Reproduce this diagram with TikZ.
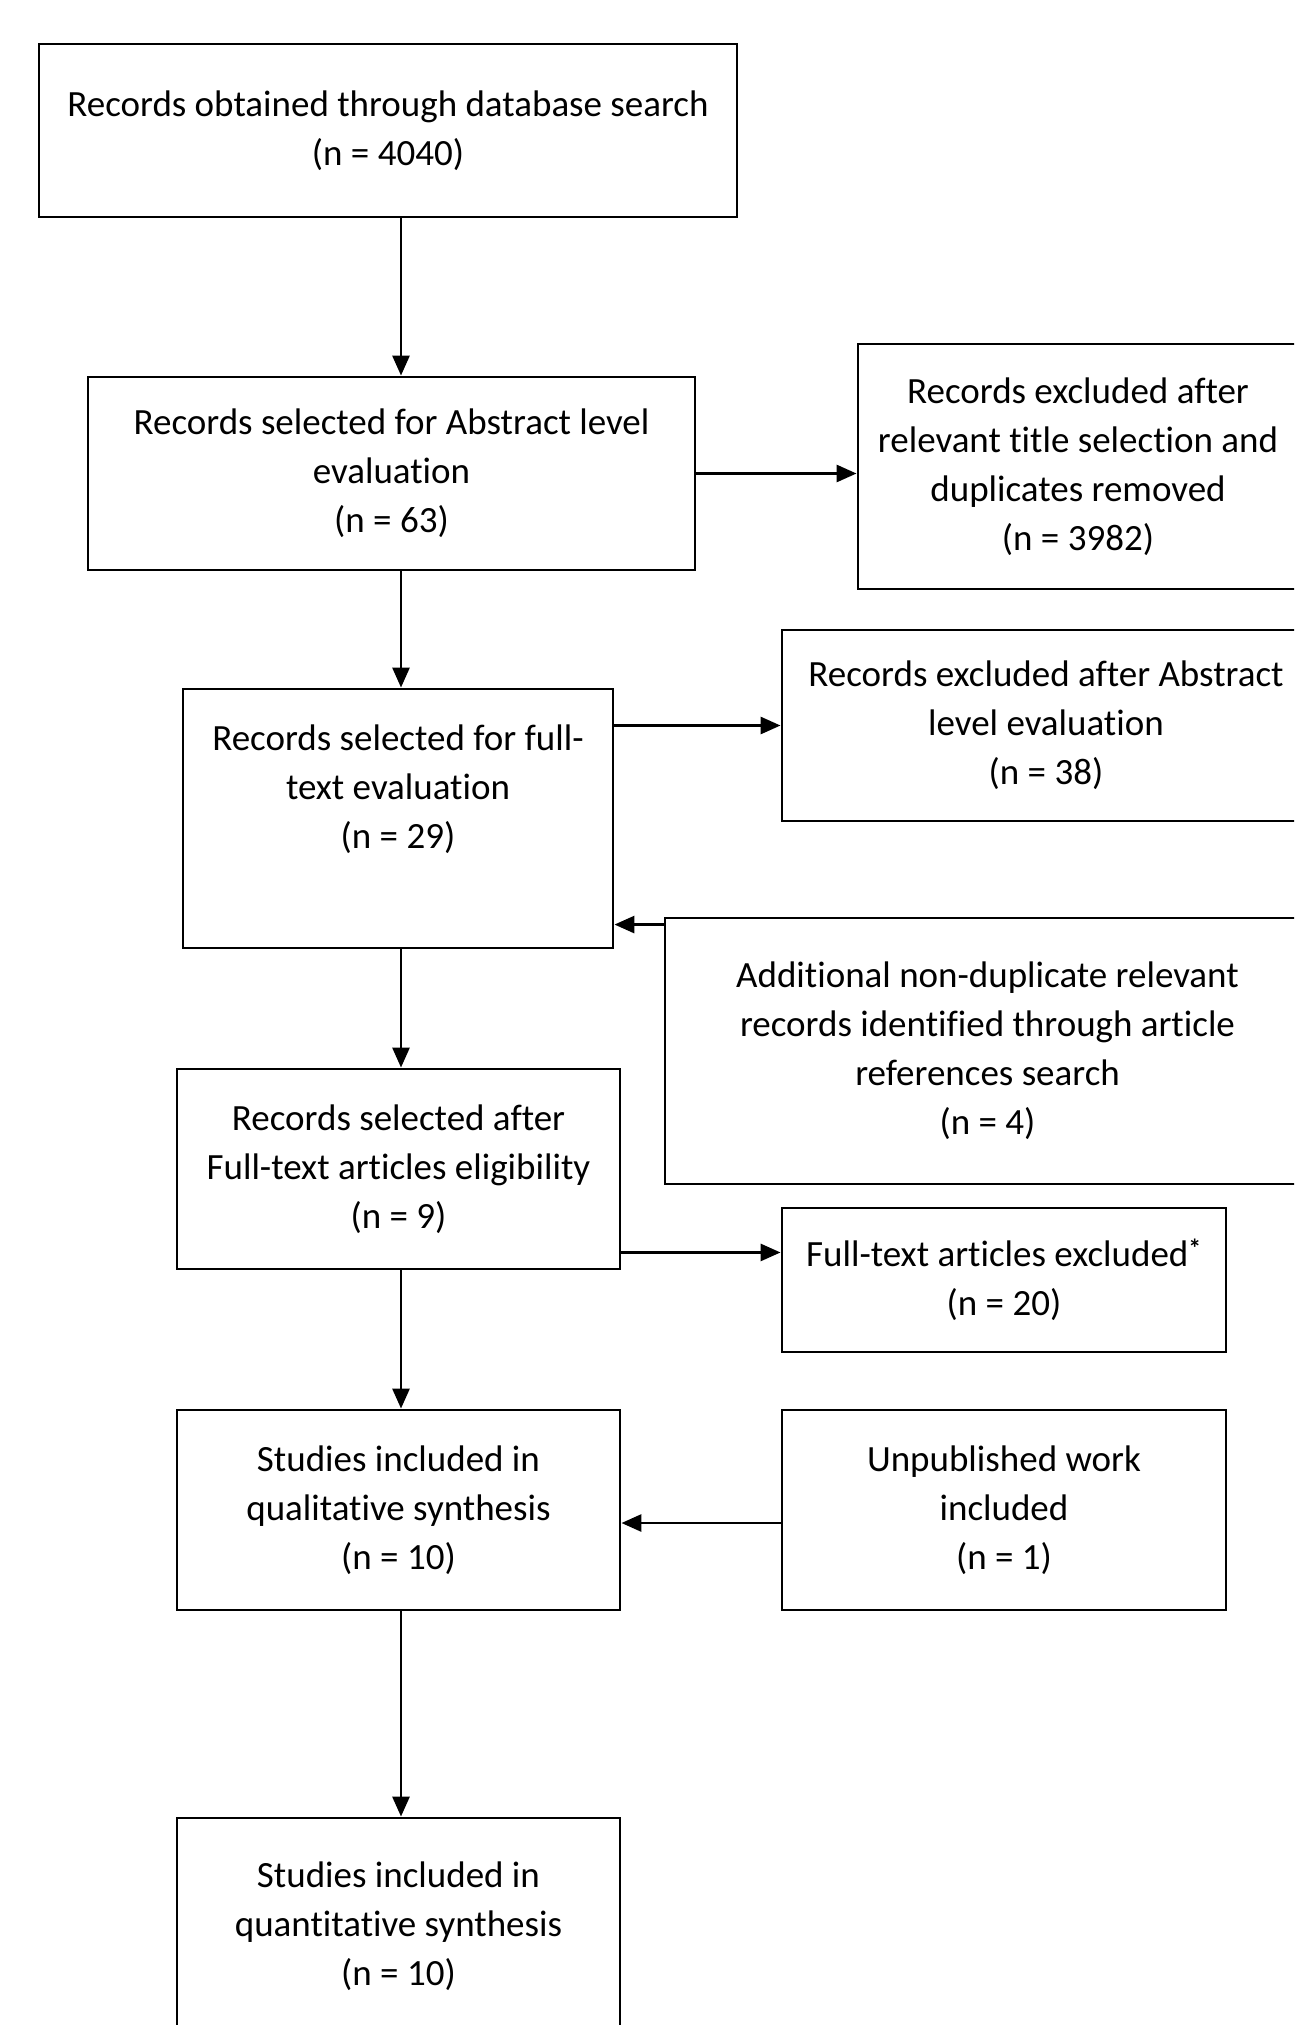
\documentclass[tikz,border=0pt]{standalone}
\usepackage{fontspec}
\setmainfont{Carlito}[Ligatures=NoCommon]
\usetikzlibrary{arrows.meta}

\begin{document}
\begin{tikzpicture}[x=1pt,y=-1pt,
        box/.style={draw,line width=2.9pt,inner sep=0pt,align=center,font=\fontsize{37}{49}\selectfont},
        arr/.style={line width=2.9pt,-{Triangle[length=20pt,width=17pt]}}]
    \clip (0,0) rectangle (1294,2025);
    \fill[white] (0,0) rectangle (1294,2025);
    \coordinate (trunk) at (401,0);
    \node[box,minimum width=698pt,minimum height=173pt] (recs) at (388,130.5) {Records obtained through database search\\(n = 4040)};
    \node[box,minimum width=607pt,minimum height=193pt] (abs) at (391.5,473.5) {Records selected for Abstract level\\evaluation\\(n = 63)};
    \node[box,minimum width=440pt,minimum height=245pt] (excla) at (1078,466.5) {Records excluded after\\relevant title selection and\\duplicates removed\\(n = 3982)};
    \node[box,minimum width=430pt,minimum height=259pt] (full) at (398,818.5) {Records selected for full-\\text evaluation\\(n = 29)\\ \strut};
    \node[box,minimum width=528pt,minimum height=191pt] (exclb) at (1046,725.5) {Records excluded after Abstract\\level evaluation\\(n = 38)};
    \node[box,minimum width=645pt,minimum height=266pt] (addl) at (987.5,1051) {Additional non-duplicate relevant\\records identified through article\\references search\\(n = 4)};
    \node[box,minimum width=443pt,minimum height=200pt] (sel) at (398.5,1169) {Records selected after\\Full-text articles eligibility\\(n = 9)};
    \node[box,minimum width=444pt,minimum height=144pt] (exclc) at (1004,1280) {Full-text articles excluded\textsuperscript{\textbf{*}}\\(n = 20)};
    \node[box,minimum width=443pt,minimum height=200pt] (qual) at (398.5,1510) {Studies included in\\qualitative synthesis\\(n = 10)};
    \node[box,minimum width=444pt,minimum height=200pt] (unpub) at (1004,1510) {Unpublished work\\included\\(n = 1)};
    \node[box,minimum width=443pt,minimum height=217pt] (quant) at (398.5,1926.5) {Studies included in\\quantitative synthesis\\(n = 10)};

    \draw[arr] (recs.south -| trunk) -- (abs.north -| trunk);
    \draw[arr] (abs.east) -- (abs.east -| excla.west);
    \draw[arr] (abs.south -| trunk) -- (full.north -| trunk);
    \draw[arr] (exclb.west -| full.east) -- (exclb.west);
    \draw[arr] ([yshift=-8pt]addl.north west) -- ([yshift=-8pt]addl.north west -| full.east);
    \draw[arr] (full.south -| trunk) -- (sel.north -| trunk);
    \draw[arr] ([yshift=18pt]sel.south east) -- ([yshift=18pt]sel.south east -| exclc.west);
    \draw[arr] (sel.south -| trunk) -- (qual.north -| trunk);
    \draw[arr] ([yshift=-13pt]unpub.west) -- ([yshift=-13pt]unpub.west -| qual.east);
    \draw[arr] (qual.south -| trunk) -- (quant.north -| trunk);
\end{tikzpicture}
\end{document}
